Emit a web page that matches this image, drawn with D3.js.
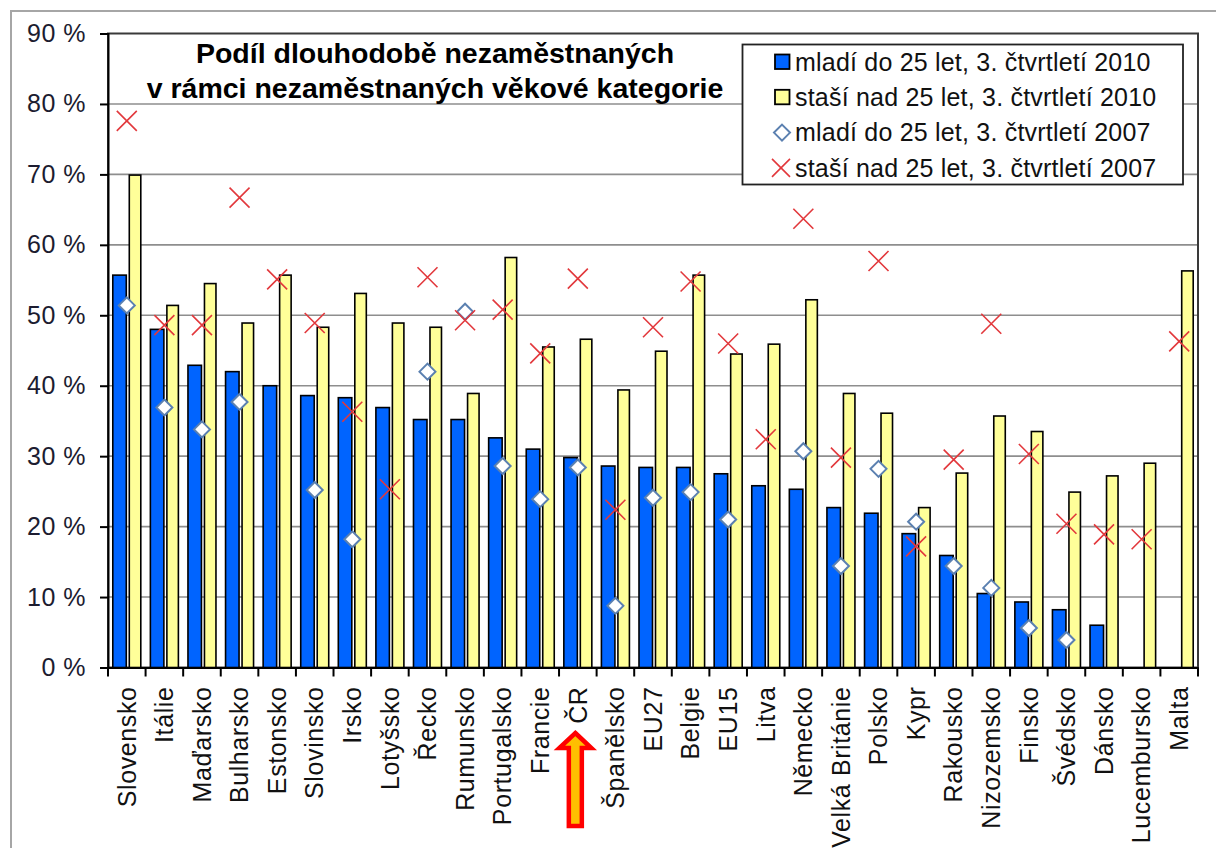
<!DOCTYPE html>
<html>
<head>
<meta charset="utf-8">
<script src="https://cdn.jsdelivr.net/npm/d3@7"></script>
<style>
  html, body { margin: 0; padding: 0; background: #fff; }
  svg { display: block; font-family: "Liberation Sans", Arial, sans-serif; }
</style>
</head>
<body>
<svg id="chart" width="1216" height="848"></svg>
<script>
const categories = ["Slovensko","Itálie","Maďarsko","Bulharsko","Estonsko","Slovinsko","Irsko","Lotyšsko","Řecko","Rumunsko","Portugalsko","Francie","ČR","Španělsko","EU27","Belgie","EU15","Litva","Německo","Velká Británie","Polsko","Kypr","Rakousko","Nizozemsko","Finsko","Švédsko","Dánsko","Lucembursko","Malta"];
const young2010 = [55.7,48.0,42.9,42.0,40.0,38.6,38.3,36.9,35.2,35.2,32.6,31.0,29.8,28.6,28.4,28.4,27.5,25.8,25.3,22.7,21.9,19.0,15.9,10.5,9.3,8.2,6.0,null,null];
const older2010 = [69.9,51.4,54.5,48.9,55.7,48.3,53.1,48.9,48.3,38.9,58.2,45.5,46.6,39.4,44.9,55.7,44.5,45.9,52.2,38.9,36.1,22.7,27.6,35.7,33.5,24.9,27.2,29.0,56.3];
const young2007 = [51.4,36.9,33.8,37.7,null,25.2,18.2,null,42.0,50.5,28.6,23.9,28.4,8.75,24.1,24.9,21.0,null,30.7,14.4,28.2,20.7,14.4,11.3,5.6,3.9,null,null,null];
const older2007 = [77.6,48.6,48.6,66.7,55.1,48.9,36.3,25.3,55.4,49.3,50.8,44.6,55.2,22.4,48.3,54.8,46.0,32.4,63.7,29.8,57.7,17.2,29.5,48.8,30.3,20.4,18.9,18.2,46.3];
const yTicks = [0,10,20,30,40,50,60,70,80,90];
const seriesNames = ["mladí do 25 let, 3. čtvrtletí 2010","staší nad 25 let, 3. čtvrtletí 2010","mladí do 25 let, 3. čtvrtletí 2007","staší nad 25 let, 3. čtvrtletí 2007"];
const titleLines = ["Podíl dlouhodobě nezaměstnaných","v rámci nezaměstnaných věkové kategorie"];
const highlight = "ČR";

const svg = d3.select("#chart");
const pL = 108, pR = 1198, pT = 33.5, pB = 667.5;
const x = d3.scaleBand().domain(categories).range([pL, pR]).padding(0);
const y = d3.scaleLinear().domain([0, 90]).range([pB, pT]);
const bw = x.bandwidth();
const cx = c => x(c) + bw / 2;

const BLUE = "#0064ff", YELLOW = "#ffff99", RED = "#e2383c", DIAM = "#5b80b0";

// outer frame
svg.append("rect").attr("x", 11).attr("y", 11).attr("width", 1215).attr("height", 850)
  .attr("fill", "none").attr("stroke", "#a6a6a6").attr("stroke-width", 2);

// gridlines
svg.append("g").selectAll("line").data(yTicks.filter(t => t > 0 && t < 90)).join("line")
  .attr("x1", pL).attr("x2", pR).attr("y1", d => y(d)).attr("y2", d => y(d))
  .attr("stroke", "#8e8e8e").attr("stroke-width", 1.6);

// plot border
svg.append("rect").attr("x", pL).attr("y", pT).attr("width", pR - pL).attr("height", pB - pT)
  .attr("fill", "none").attr("stroke", "#3a3a3a").attr("stroke-width", 2);

// bars
const rows = categories.map((c, i) => ({c, y10: young2010[i], o10: older2010[i], y07: young2007[i], o07: older2007[i]}));
svg.append("g").selectAll("rect").data(rows.filter(d => d.y10 != null)).join("rect")
  .attr("x", d => cx(d.c) - 14).attr("width", 13.5)
  .attr("y", d => y(d.y10)).attr("height", d => y(0) - y(d.y10))
  .attr("fill", BLUE).attr("stroke", "#000").attr("stroke-width", 1.6);
svg.append("g").selectAll("rect").data(rows.filter(d => d.o10 != null)).join("rect")
  .attr("x", d => cx(d.c) + 2.5).attr("width", 11.5)
  .attr("y", d => y(d.o10)).attr("height", d => y(0) - y(d.o10))
  .attr("fill", YELLOW).attr("stroke", "#000").attr("stroke-width", 1.6);

// axes
const yAxis = svg.append("g").attr("transform", `translate(${pL},0)`)
  .call(d3.axisLeft(y).tickValues(yTicks).tickSize(8).tickPadding(14).tickFormat(d => d + " %"));
yAxis.select(".domain").attr("stroke", "#000").attr("stroke-width", 2);
yAxis.selectAll(".tick line").attr("stroke", "#000").attr("stroke-width", 2);
yAxis.selectAll(".tick text").attr("font-size", 25).attr("fill", "#1c1c30")
  .attr("letter-spacing", 0.5)
  .attr("font-family", "'Liberation Sans', Arial, sans-serif");

const xAxis = svg.append("g").attr("transform", `translate(0,${pB})`)
  .call(d3.axisBottom(x).tickSize(0).tickFormat(""));
xAxis.select(".domain").attr("stroke", "#000").attr("stroke-width", 2);
svg.append("g").selectAll("line").data(categories.concat(["__end"])).join("line")
  .attr("x1", (d, i) => i < categories.length ? x(d) : pR)
  .attr("x2", (d, i) => i < categories.length ? x(d) : pR)
  .attr("y1", pB).attr("y2", pB + 9)
  .attr("stroke", "#000").attr("stroke-width", 2);

svg.append("g").selectAll("text").data(categories).join("text")
  .attr("transform", d => `translate(${cx(d)},${pB + 19}) rotate(-90)`)
  .attr("text-anchor", "end").attr("dy", "0.35em")
  .attr("font-size", 25).attr("fill", "#111").attr("letter-spacing", 0.6)
  .text(d => d);

// markers
const diamondPath = "M0,-8L8,0L0,8L-8,0Z";
const crossPath = "M-10,-10L10,10M-10,10L10,-10";
svg.append("g").selectAll("path").data(rows.filter(d => d.y07 != null)).join("path")
  .attr("transform", d => `translate(${cx(d.c)},${y(d.y07)})`)
  .attr("d", diamondPath).attr("fill", "#fff").attr("stroke", DIAM).attr("stroke-width", 2);
svg.append("g").selectAll("path").data(rows.filter(d => d.o07 != null)).join("path")
  .attr("transform", d => `translate(${cx(d.c)},${y(d.o07)})`)
  .attr("d", crossPath).attr("fill", "none").attr("stroke", RED).attr("stroke-width", 1.6);

// title
svg.append("g").selectAll("text").data(titleLines).join("text")
  .attr("x", 435).attr("y", (d, i) => 63 + i * 34.5)
  .attr("text-anchor", "middle").attr("font-size", 28.5).attr("font-weight", "bold")
  .attr("fill", "#000").text(d => d);

// legend
const lg = svg.append("g");
lg.append("rect").attr("x", 742.5).attr("y", 44.5).attr("width", 440.5).attr("height", 140)
  .attr("fill", "#fff").attr("stroke", "#222").attr("stroke-width", 1.8);
const ly = i => 62 + i * 35.3;
lg.append("rect").attr("x", 775).attr("y", ly(0) - 7.5).attr("width", 14.5).attr("height", 14.5)
  .attr("fill", BLUE).attr("stroke", "#000").attr("stroke-width", 1.8);
lg.append("rect").attr("x", 775).attr("y", ly(1) - 7.5).attr("width", 14.5).attr("height", 14.5)
  .attr("fill", YELLOW).attr("stroke", "#000").attr("stroke-width", 1.8);
lg.append("path").attr("transform", `translate(782,${ly(2)})`).attr("d", diamondPath)
  .attr("fill", "#fff").attr("stroke", DIAM).attr("stroke-width", 2);
lg.append("path").attr("transform", `translate(781,${ly(3)})`).attr("d", "M-9,-9L9,9M-9,9L9,-9")
  .attr("fill", "none").attr("stroke", RED).attr("stroke-width", 1.6);
lg.selectAll("text.lt").data(seriesNames).join("text").attr("class", "lt")
  .attr("x", 795).attr("y", (d, i) => ly(i)).attr("dy", "0.35em")
  .attr("font-size", 25).attr("fill", "#111").attr("letter-spacing", 0.2).text(d => d);

// arrow under highlighted category
const ax = cx(highlight) - 2.5;
svg.append("path")
  .attr("d", `M${ax},733 L${ax + 16},748 L${ax + 6.5},748 L${ax + 6.5},826 L${ax - 6.5},826 L${ax - 6.5},748 L${ax - 16},748 Z`)
  .attr("fill", "#ffbf00").attr("stroke", "#ff0000").attr("stroke-width", 4.5).attr("stroke-linejoin", "miter");
</script>
</body>
</html>
